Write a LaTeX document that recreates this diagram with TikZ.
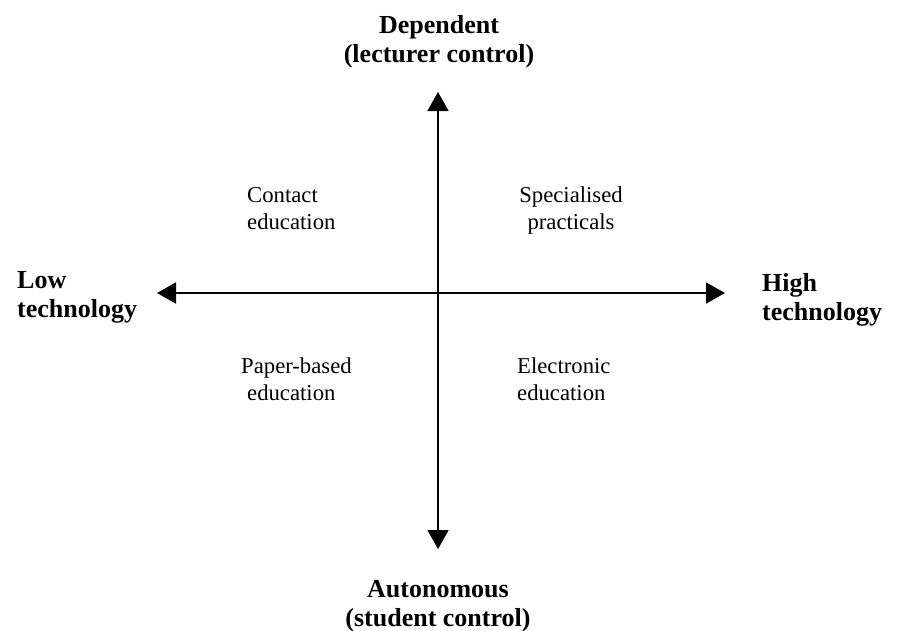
\documentclass[tikz,border=0pt]{standalone}
\usepackage{fontspec}
\setmainfont{Liberation Serif}
\usetikzlibrary{arrows.meta}
\begin{document}
\begin{tikzpicture}[x=1pt,y=-1pt,
  axis/.style={line width=1.8pt,{Triangle[length=19pt,width=21pt]}-{Triangle[length=19pt,width=21pt]}},
  pole/.style={font=\fontsize{26}{28.5}\selectfont\bfseries,inner sep=0pt},
  quad/.style={font=\fontsize{22.7}{27}\selectfont,inner sep=0pt,align=left}]
\useasboundingbox (0,0) rectangle (897,630);
% axis end points
\coordinate (top) at (438,92);
\coordinate (bottom) at (438,549);
\coordinate (left) at (157,293);
\coordinate (right) at (725,293);
\draw[axis] (top) -- (bottom);
\draw[axis] (left) -- (right);
% pole labels (anchor at baseline of last line)
\node[pole,align=center,anchor=base] (dep) at (439,62) {Dependent\\(lecturer control)};
\node[pole,align=center,anchor=base] (aut) at (438,626) {Autonomous\\(student control)};
\node[pole,align=left,anchor=base west] (low) at (17,317) {Low\\technology};
\node[pole,align=left,anchor=base west] (high) at (762,320) {High\\technology};
% quadrant labels
\node[quad,anchor=base west] (contact) at (247,229) {Contact\\education};
\node[quad,align=center,anchor=base] (spec) at (571,229) {Specialised\\practicals};
\node[quad,anchor=base west] (paper) at (241,400) {Paper-based\\\hspace*{6pt}education};
\node[quad,anchor=base west] (elec) at (517,400) {Electronic\\education};
\end{tikzpicture}
\end{document}
